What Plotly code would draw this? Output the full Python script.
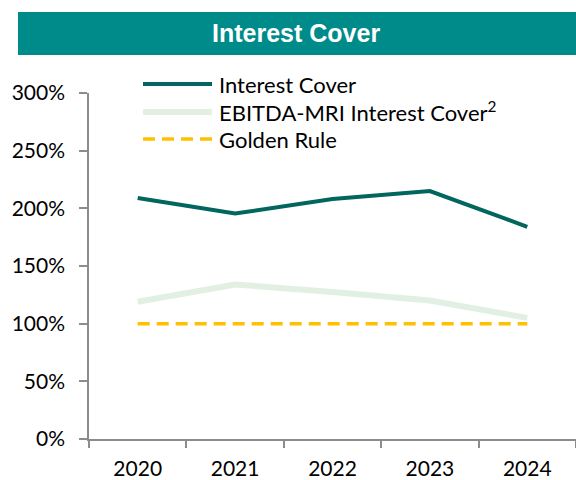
import plotly.graph_objects as go

years = ["2020", "2021", "2022", "2023", "2024"]
interest_cover = [2.09, 1.955, 2.08, 2.15, 1.84]
ebitda_mri_cover = [1.19, 1.34, 1.275, 1.20, 1.05]
golden_rule = [1.00, 1.00, 1.00, 1.00, 1.00]

series_names = ["Interest Cover", "EBITDA-MRI Interest Cover<sup>2</sup>", "Golden Rule"]
series_colors = ["#00665E", "#E2EFE3", "#FFC000"]
series_dash = ["solid", "solid", "12px,7px"]
series_width = [4, 6, 3.5]
series_values = [interest_cover, ebitda_mri_cover, golden_rule]

W, H = 576, 480
L, R, T, B = 89, 0, 93, 41
pw, ph = W - L - R, H - T - B

def px_x(px):
    return (px - L) / pw

def px_y(py):
    return (H - B - py) / ph

fig = go.Figure()
for name, vals, col, dash, w in zip(series_names, series_values, series_colors, series_dash, series_width):
    fig.add_trace(go.Scatter(x=years, y=vals, mode="lines", name=name,
                             line=dict(color=col, width=w, dash=dash),
                             showlegend=False))

shapes = []
annotations = []

# Title banner
shapes.append(dict(type="rect", xref="paper", yref="paper",
                   x0=px_x(18), x1=px_x(576), y0=px_y(55), y1=px_y(12),
                   fillcolor="#008B8B", line=dict(width=0), layer="above"))
annotations.append(dict(text="<b>Interest Cover</b>", xref="paper", yref="paper",
                        x=px_x(296), y=px_y(33), showarrow=False,
                        xanchor="center", yanchor="middle",
                        font=dict(family="Liberation Sans, Arial", size=25, color="white")))

# Legend drawn as line samples with labels
row_y = [84, 112, 139]
for name, col, dash, w, ry in zip(series_names, series_colors, series_dash, series_width, row_y):
    shapes.append(dict(type="line", xref="paper", yref="paper",
                       x0=px_x(143), x1=px_x(212), y0=px_y(ry), y1=px_y(ry),
                       line=dict(color=col, width=w, dash=dash)))
    annotations.append(dict(text=name, xref="paper", yref="paper",
                            x=px_x(217), y=px_y(ry), showarrow=False,
                            xanchor="left", yanchor="middle",
                            font=dict(family="Lato, Carlito, Calibri", size=22, color="#000000")))

fig.update_layout(
    width=W, height=H,
    margin=dict(l=L, r=R, t=T, b=B),
    paper_bgcolor="white", plot_bgcolor="white",
    shapes=shapes, annotations=annotations,
    font=dict(family="Lato, Carlito, Calibri", size=21, color="#000000"),
)
fig.update_xaxes(type="category", tickson="boundaries", ticks="outside", ticklen=7,
                 tickcolor="#8C8C8C", tickwidth=1.5, showline=True, linecolor="#8C8C8C",
                 linewidth=1.5, showgrid=False, zeroline=False,
                 ticklabelstandoff=10, range=[-0.5, 4.5])
fig.update_yaxes(range=[0, 3], tickvals=[0, 0.5, 1, 1.5, 2, 2.5, 3],
                 tickformat=".0%", ticks="outside", ticklen=8, tickcolor="#8C8C8C",
                 tickwidth=1.5, showline=True, linecolor="#8C8C8C", linewidth=1.5,
                 showgrid=False, zeroline=False, ticklabelstandoff=10)

fig.write_html("out.html")
